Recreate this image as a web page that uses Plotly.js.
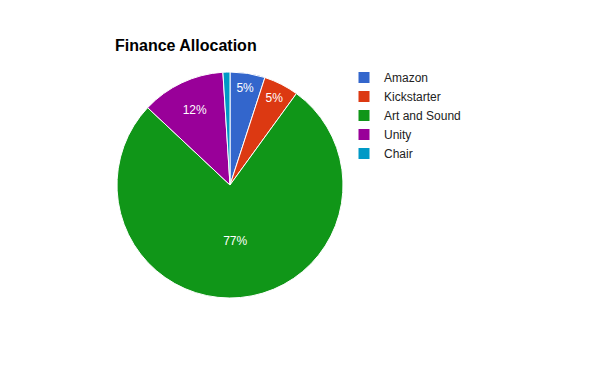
<!DOCTYPE html>
<html><head><meta charset="utf-8">
<script src="https://cdn.plot.ly/plotly-3.0.1.min.js"></script>
<style>body{margin:0;background:#fff}#chart{width:600px;height:371px}</style>
</head><body><div id="chart"></div>
<script>
const labels = ["Amazon", "Kickstarter", "Art and Sound", "Unity", "Chair"];
const values = [5, 5, 77, 12, 1];
const colors = ["#3366cc", "#dc3912", "#109618", "#990099", "#0099c6"];
const sliceText = ["%{percent:.0%}", "%{percent:.0%}", "%{percent:.0%}", "%{percent:.0%}", ""];

const trace = {
  type: "pie",
  labels: labels,
  values: values,
  sort: false,
  direction: "clockwise",
  rotation: 0,
  marker: {colors: colors, line: {color: "#ffffff", width: 1}},
  texttemplate: sliceText,
  textposition: "inside",
  insidetextorientation: "horizontal",
  insidetextfont: {color: "#ffffff", size: 12, family: "Liberation Sans, Arial, sans-serif"},
  hoverinfo: "label+percent",
  domain: {x: [117/600, 343/600], y: [1 - 298/371, 1 - 72/371]}
};

const layout = {
  width: 600, height: 371,
  margin: {l: 0, r: 0, t: 0, b: 0},
  paper_bgcolor: "#ffffff",
  font: {family: "Liberation Sans, Arial, sans-serif", size: 12, color: "#222222"},
  title: {
    text: "Finance Allocation",
    x: 115/600, xanchor: "left", xref: "paper",
    y: 1 - 45/371, yanchor: "middle", yref: "paper",
    font: {size: 16, weight: "bold", color: "#000000", family: "Liberation Sans, Arial, sans-serif"}
  },
  showlegend: true,
  legend: {
    x: 344/600, xanchor: "left", y: 1 - 63/371, yanchor: "top",
    font: {size: 12, color: "#222222"},
    tracegroupgap: 0, itemwidth: 30
  }
};

Plotly.newPlot("chart", [trace], layout, {displayModeBar: false, staticPlot: true});
</script>
</body></html>
